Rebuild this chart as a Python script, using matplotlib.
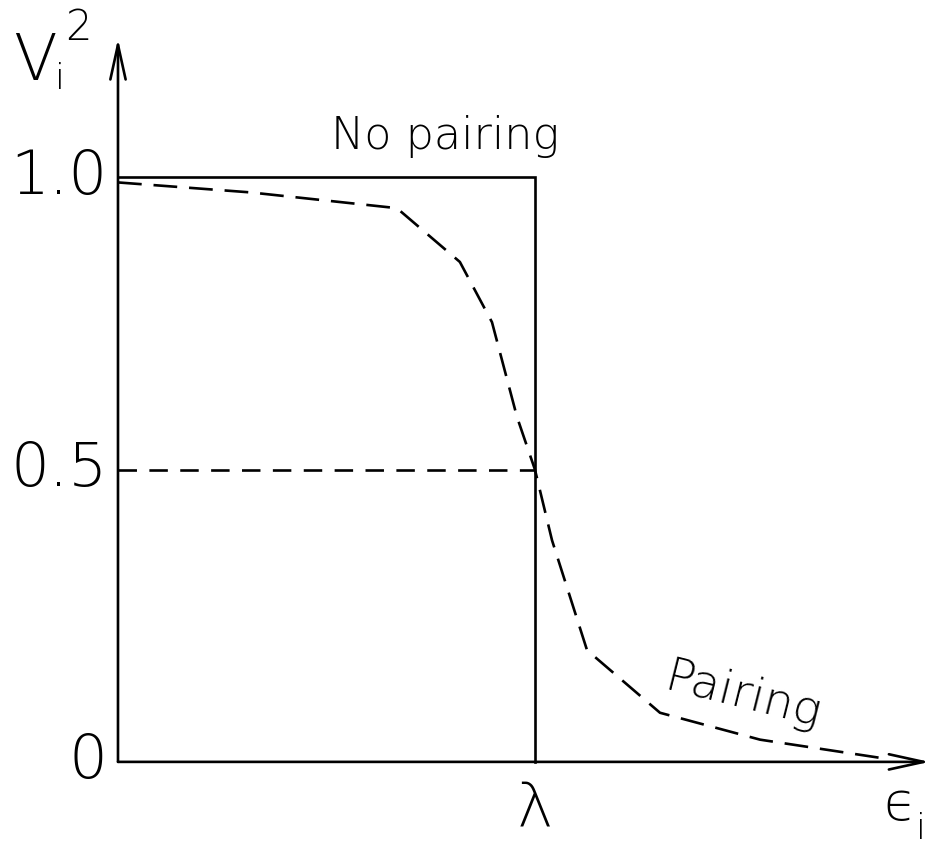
import numpy as np
import matplotlib.pyplot as plt

# occupation probability V_i^2 versus single-particle energy (lambda = 1)
step_x = [0.0, 1.0, 1.0]
step_y = [1.0, 1.0, 0.0]

bcs_x = [0.0, 0.317, 0.669, 0.820, 0.897, 0.957, 1.0, 1.041, 1.125, 1.300, 1.540, 1.827]
bcs_y = [0.991, 0.974, 0.947, 0.855, 0.752, 0.590, 0.5, 0.379, 0.191, 0.084, 0.038, 0.007]

half_x = [0.0, 1.0]
half_y = [0.5, 0.5]

ytick_vals = [0.0, 0.5, 1.0]
ytick_labels = ["0", "0.5", "1.0"]

plt.rcParams['font.family'] = ['DejaVu Sans']
fw = 'light'

fig = plt.figure(figsize=(9.31, 8.49), dpi=100)
ax = fig.add_axes([0, 0, 1, 1])
ax.set_xlim(-0.283, 1.950)
ax.set_ylim(-0.149, 1.303)
ax.axis('off')

lw = 1.9
# axes with open arrowheads
arrow = dict(arrowstyle='->,head_length=2.5,head_width=0.55', lw=lw, color='black',
             shrinkA=0, shrinkB=0)
ax.annotate('', xy=(0, 1.237), xytext=(0, 0), arrowprops=arrow)
ax.annotate('', xy=(1.947, 0), xytext=(0, 0), arrowprops=arrow)

ax.plot(step_x, step_y, color='black', lw=lw, solid_joinstyle='miter')
ax.plot(bcs_x, bcs_y, color='black', lw=lw, dashes=(9, 4.5))
ax.plot(half_x, half_y, color='black', lw=lw, dashes=(7, 4.7))

for v, lab in zip(ytick_vals, ytick_labels):
    ax.text(-0.026, v, lab, ha='right', va='center', fontsize=44, fontweight=fw)

ax.text(0.785, 1.07, "No pairing", ha='center', va='center', fontsize=32, fontweight=fw)
ax.text(1.500, 0.112, "Pairing", ha='center', va='center', fontsize=34,
        fontweight=fw, rotation=-14)

ax.text(1.0, -0.080, "λ", ha='center', va='center', fontsize=44, fontweight=fw)
ax.text(1.875, -0.075, "ϵ", ha='center', va='center', fontsize=38, fontweight=fw)
ax.text(1.925, -0.115, "i", ha='center', va='center', fontsize=26, fontweight=fw)

ax.text(-0.200, 1.196, "V", ha='center', va='center', fontsize=46, fontweight=fw)
ax.text(-0.138, 1.168, "i", ha='center', va='center', fontsize=26, fontweight=fw)
ax.text(-0.095, 1.256, "2", ha='center', va='center', fontsize=30, fontweight=fw)

fig.savefig("out.png", dpi=100)
